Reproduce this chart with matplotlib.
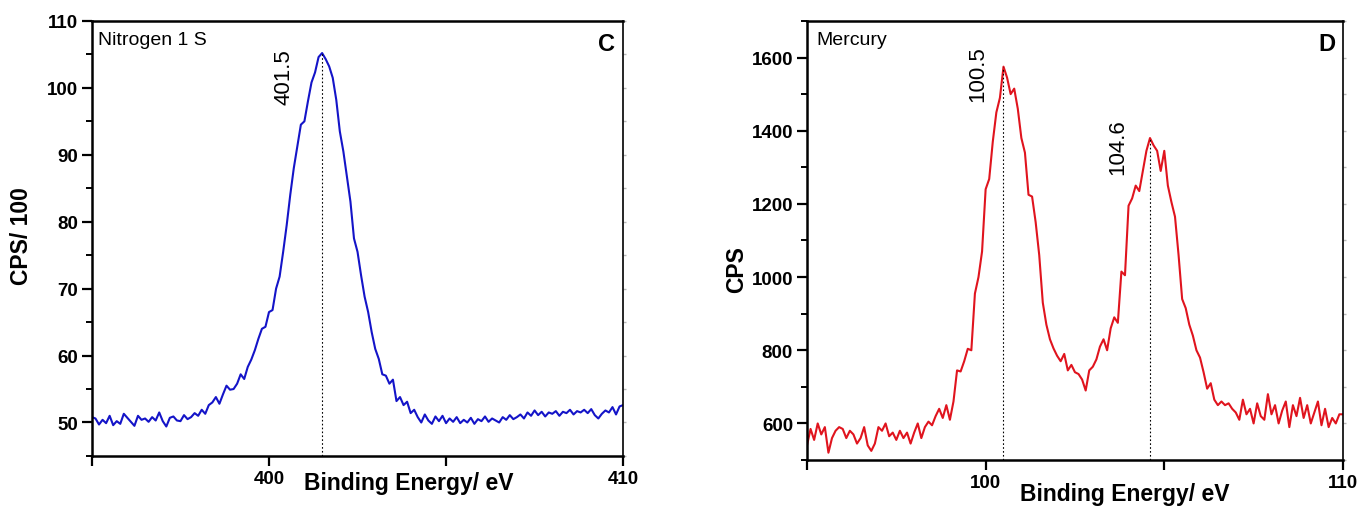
import numpy as np
import matplotlib.pyplot as plt
from matplotlib.ticker import MultipleLocator, FixedLocator, FixedFormatter

plt.rcParams['font.family'] = ['Liberation Sans', 'DejaVu Sans']

# N 1s spectrum, 395.0 - 410.0 eV in 0.1 eV steps (CPS/100)
n_start, n_step = 395.0, 0.1
n_counts = [
    50.8, 50.6, 49.7, 50.4, 49.9, 51.0, 49.6, 50.2, 49.8, 51.3,
    50.7, 50.1, 49.5, 51.0, 50.4, 50.6, 50.1, 50.8, 50.3, 51.5,
    50.2, 49.4, 50.7, 50.9, 50.3, 50.2, 51.1, 50.5, 50.8, 51.4,
    51.0, 51.9, 51.3, 52.6, 53.0, 53.8, 52.8, 54.2, 55.5, 54.9,
    55.0, 55.8, 57.2, 56.5, 58.3, 59.4, 60.8, 62.5, 64.0, 64.3,
    66.5, 66.8, 70.0, 71.8, 75.5, 79.5, 84.0, 88.0, 91.2, 94.5,
    95.0, 98.0, 100.8, 102.3, 104.6, 105.2, 104.3, 103.2, 101.5, 98.2,
    93.5, 90.5, 86.8, 83.0, 77.5, 75.5, 72.0, 68.8, 66.5, 63.5,
    61.0, 59.5, 57.2, 57.0, 55.8, 56.4, 53.2, 53.8, 52.6, 53.1,
    51.4, 51.9, 50.8, 50.0, 51.2, 50.3, 49.8, 50.9, 50.2, 51.0,
    49.9, 50.6, 50.1, 50.8, 49.9, 50.4, 50.0, 50.7, 49.8, 50.5,
    50.2, 50.9, 50.1, 50.6, 50.3, 50.0, 50.8, 50.4, 51.1, 50.5,
    50.8, 51.2, 50.6, 51.5, 51.0, 51.8, 51.1, 51.6, 50.9, 51.5,
    51.3, 51.7, 51.0, 51.6, 51.4, 51.9, 51.2, 51.7, 51.5, 51.9,
    51.4, 52.0, 51.1, 50.6, 51.3, 51.8, 51.5, 52.3, 51.2, 52.4,
    52.6,
]
n_peaks = [401.5]
n_peak_heights = [105.2]

# Hg 4f spectrum, 95.0 - 110.0 eV in 0.1 eV steps (CPS)
hg_start, hg_step = 95.0, 0.1
hg_counts = [
    540, 585, 555, 600, 570, 590, 520, 560, 580, 590,
    585, 560, 580, 570, 545, 560, 590, 540, 525, 545,
    590, 580, 600, 565, 575, 555, 580, 560, 575, 545,
    575, 600, 560, 590, 605, 595, 620, 640, 615, 650,
    610, 660, 745, 742, 770, 804, 800, 955, 1000, 1070,
    1240, 1268, 1370, 1450, 1490, 1575, 1545, 1500, 1515, 1460,
    1380, 1340, 1225, 1220, 1150, 1060, 930, 870, 830, 805,
    785, 770, 790, 745, 760, 740, 735, 720, 690, 745,
    755, 775, 810, 830, 800, 860, 890, 875, 1015, 1005,
    1195, 1215, 1250, 1235, 1290, 1345, 1380, 1360, 1345, 1290,
    1345, 1250, 1205, 1165, 1060, 940, 915, 870, 840, 800,
    780, 740, 695, 710, 665, 650, 660, 650, 655, 640,
    630, 610, 665, 625, 640, 600, 655, 620, 610, 680,
    625, 650, 600, 635, 660, 590, 650, 620, 670, 615,
    650, 600, 630, 660, 595, 640, 590, 615, 600, 625,
    625,
]
hg_peaks = [100.5, 104.6]
hg_peak_heights = [1575, 1380]

n_energy = n_start + n_step * np.arange(len(n_counts))
hg_energy = hg_start + hg_step * np.arange(len(hg_counts))

fig = plt.figure(figsize=(13.62, 5.10), dpi=100)
ax1 = fig.add_axes([0.0675, 0.104, 0.390, 0.853])
ax2 = fig.add_axes([0.5925, 0.096, 0.3935, 0.861])


def style_axes(ax, xlim, ylim, xticks, xlabels, ymajor, yminor):
    ax.set_xlim(*xlim)
    ax.set_ylim(*ylim)
    ax.xaxis.set_major_locator(FixedLocator(xticks))
    ax.xaxis.set_major_formatter(FixedFormatter(xlabels))
    ax.yaxis.set_major_locator(MultipleLocator(ymajor))
    ax.yaxis.set_minor_locator(MultipleLocator(yminor))
    for s in ax.spines.values():
        s.set_linewidth(1.8)
    ax.spines['right'].set_linewidth(1.2)
    ax.tick_params(axis='both', which='major', direction='out', length=7,
                   width=1.6, labelsize=13.5, pad=3)
    ax.tick_params(axis='y', which='minor', direction='out', length=4, width=1.4)
    for lab in ax.get_xticklabels() + ax.get_yticklabels():
        lab.set_fontweight('bold')
    # faint ticks along the right edge
    sec = ax.secondary_yaxis('right')
    sec.yaxis.set_major_locator(MultipleLocator(yminor))
    sec.tick_params(length=2.5, width=1, color='#b8b8b8', labelright=False)
    sec.spines['right'].set_visible(False)


# panel C: nitrogen
ax1.plot(n_energy, n_counts, color='#1414c8', lw=1.5)
for px, py in zip(n_peaks, n_peak_heights):
    ax1.plot([px, px], [45, py], color='black', lw=0.8, ls=(0, (1.5, 2)))
    ax1.text(px - 0.77, py - 7.6, f'{px:.1f}', rotation=90, fontsize=16,
             ha='right', va='bottom')
style_axes(ax1, (395, 410), (45, 110), [395, 400, 405, 410],
           ['', '400', '', '410'], 10, 5)
ax1.set_ylabel('CPS/ 100', fontsize=16.5, fontweight='bold')
ax1.yaxis.set_label_coords(-0.111, 0.508)
ax1.text(0.40, -0.035, 'Binding Energy/ eV', transform=ax1.transAxes,
         fontsize=16.5, fontweight='bold', ha='left', va='top')
ax1.text(0.011, 0.978, 'Nitrogen 1 S', transform=ax1.transAxes,
         fontsize=14, ha='left', va='top')
ax1.text(0.985, 0.975, 'C', transform=ax1.transAxes, fontsize=17,
         fontweight='bold', ha='right', va='top')

# panel D: mercury
ax2.plot(hg_energy, hg_counts, color='#e0141e', lw=1.5)
for px, py, dx, dy in zip(hg_peaks, hg_peak_heights, [0.43, 0.62], [94, 98]):
    ax2.plot([px, px], [500, py], color='black', lw=0.8, ls=(0, (1.5, 2)))
    ax2.text(px - dx, py - dy, f'{px:.1f}', rotation=90, fontsize=16,
             ha='right', va='bottom')
style_axes(ax2, (95, 110), (500, 1700), [95, 100, 105, 110],
           ['', '100', '', '110'], 200, 100)
ax2.set_ylabel('CPS', fontsize=16.5, fontweight='bold')
ax2.yaxis.set_label_coords(-0.110, 0.435)
ax2.text(0.397, -0.05, 'Binding Energy/ eV', transform=ax2.transAxes,
         fontsize=16.5, fontweight='bold', ha='left', va='top')
ax2.text(0.017, 0.978, 'Mercury', transform=ax2.transAxes,
         fontsize=14, ha='left', va='top')
ax2.text(0.987, 0.975, 'D', transform=ax2.transAxes, fontsize=17,
         fontweight='bold', ha='right', va='top')

fig.savefig('out.png', dpi=100)
